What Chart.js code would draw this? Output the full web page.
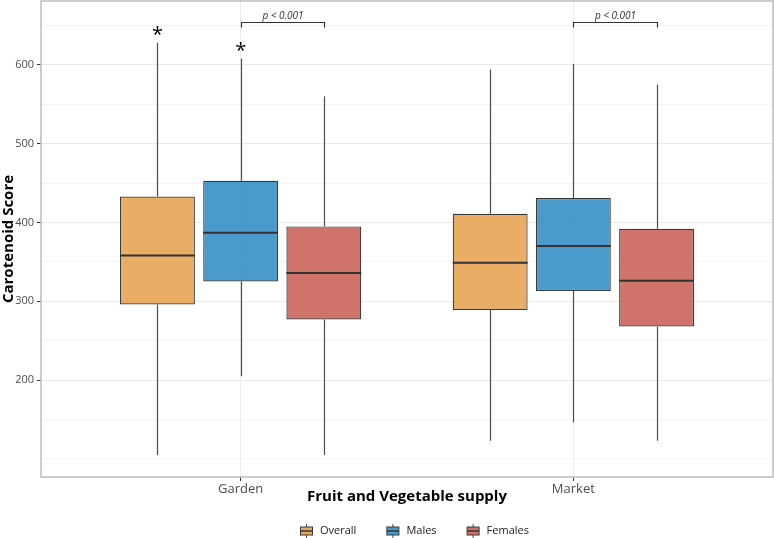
<!DOCTYPE html>
<html>
<head>
<meta charset="utf-8">
<script src="https://cdn.jsdelivr.net/npm/chart.js@4.4.1/dist/chart.umd.min.js"></script>
<style>
  html, body { margin: 0; padding: 0; background: #fff; }
  canvas { display: block; }
</style>
</head>
<body>
<canvas id="myChart" width="774" height="538"></canvas>
<script>
// categorias y series
const groups = ['Garden', 'Market'];
const groupPos = [1, 2];
const seriesNames = ['Overall', 'Males', 'Females'];
const dodge = [-0.25, 0, 0.25];

// valores de las cajas (min, q1, mediana, q3, max) por serie
const overallLow = [105, 123];
const overallQ1 = [296, 289];
const overallMed = [358, 349];
const overallQ3 = [433, 411];
const overallHigh = [628, 594];

const malesLow = [205, 146];
const malesQ1 = [325, 313];
const malesMed = [387, 370];
const malesQ3 = [453, 431];
const malesHigh = [608, 601];

const femalesLow = [105, 123];
const femalesQ1 = [277, 268];
const femalesMed = [336, 326];
const femalesQ3 = [395, 392];
const femalesHigh = [560, 575];

// ticks del eje y
const yTickLabels = [200, 300, 400, 500, 600];
const yGridValues = [100, 150, 200, 250, 300, 350, 400, 450, 500, 550, 600, 650];

// anotaciones: asteriscos y p-valor
const starX = [0.75, 1];
const starY = [638, 617];
const sigGroups = [1, 2];
const sigText = 'p < 0.001';
const sigY = 654;

const colors = ['rgba(230,159,75,0.85)', 'rgba(42,138,195,0.85)', 'rgba(200,90,80,0.85)'];
const legendColors = ['#E8A963', '#4A9ACC', '#D0736A'];

const lows = [overallLow, malesLow, femalesLow];
const q1s = [overallQ1, malesQ1, femalesQ1];
const meds = [overallMed, malesMed, femalesMed];
const q3s = [overallQ3, malesQ3, femalesQ3];
const highs = [overallHigh, malesHigh, femalesHigh];

const FONT = "'Open Sans', 'Noto Sans', sans-serif";

const datasets = seriesNames.map((name, s) => ({
    label: name,
    data: groupPos.map((p, i) => ({ x: p + dodge[s], y: [q1s[s][i], q3s[s][i]] })),
    backgroundColor: colors[s],
    borderColor: '#383838',
    borderWidth: 1.2,
    borderSkipped: false,
    grouped: false,
    categoryPercentage: 1,
    barPercentage: 0.9
}));

//bigotes detras de las cajas y mediana encima
const boxPlugin = {
    id: 'boxPlugin',
    beforeDatasetsDraw(chart) {
        const ctx = chart.ctx;
        const y = chart.scales.y;
        ctx.save();
        ctx.strokeStyle = '#4d4d4d';
        ctx.lineWidth = 1.2;
        chart.data.datasets.forEach((ds, s) => {
            const meta = chart.getDatasetMeta(s);
            meta.data.forEach((bar, i) => {
                const x = Math.round(bar.x) + 0.5;
                ctx.beginPath();
                ctx.moveTo(x, y.getPixelForValue(highs[s][i]));
                ctx.lineTo(x, y.getPixelForValue(q3s[s][i]));
                ctx.moveTo(x, y.getPixelForValue(q1s[s][i]));
                ctx.lineTo(x, y.getPixelForValue(lows[s][i]));
                ctx.stroke();
            });
        });
        ctx.restore();
    },
    afterDatasetsDraw(chart) {
        const ctx = chart.ctx;
        const x = chart.scales.x;
        const y = chart.scales.y;
        const area = chart.chartArea;
        ctx.save();
        ctx.strokeStyle = '#333333';
        ctx.lineWidth = 2;
        chart.data.datasets.forEach((ds, s) => {
            const meta = chart.getDatasetMeta(s);
            meta.data.forEach((bar, i) => {
                const py = y.getPixelForValue(meds[s][i]);
                ctx.beginPath();
                ctx.moveTo(bar.x - bar.width / 2, py);
                ctx.lineTo(bar.x + bar.width / 2, py);
                ctx.stroke();
            });
        });

        // asteriscos
        ctx.fillStyle = '#000';
        ctx.font = '20px ' + FONT;
        ctx.textAlign = 'center';
        ctx.textBaseline = 'middle';
        starX.forEach((sx, i) => {
            ctx.fillText('*', x.getPixelForValue(sx), y.getPixelForValue(starY[i]));
        });

        // corchetes con p-valor
        ctx.strokeStyle = '#333333';
        ctx.lineWidth = 1.2;
        ctx.font = 'italic 10px ' + FONT;
        ctx.fillStyle = '#333333';
        ctx.textBaseline = 'alphabetic';
        sigGroups.forEach(g => {
            const x1 = Math.round(x.getPixelForValue(g + dodge[1])) + 0.5;
            const x2 = Math.round(x.getPixelForValue(g + dodge[2])) + 0.5;
            const by = Math.round(y.getPixelForValue(sigY)) + 0.5;
            ctx.beginPath();
            ctx.moveTo(x1, by + 5);
            ctx.lineTo(x1, by);
            ctx.lineTo(x2, by);
            ctx.lineTo(x2, by + 5);
            ctx.stroke();
            ctx.fillText(sigText, (x1 + x2) / 2, by - 4);
        });

        // borde del panel
        ctx.strokeStyle = '#bdbdbd';
        ctx.lineWidth = 1.5;
        ctx.strokeRect(area.left, area.top, area.right - area.left, area.bottom - area.top);
        ctx.restore();
    },
    //leyenda propia abajo
    afterDraw(chart) {
        const ctx = chart.ctx;
        ctx.save();
        ctx.font = '11px ' + FONT;
        ctx.textBaseline = 'middle';
        ctx.textAlign = 'left';
        const cy = 531;
        let lx = 300;
        seriesNames.forEach((name, s) => {
            // mini boxplot
            const kx = lx + 6.5;
            ctx.strokeStyle = '#4d4d4d';
            ctx.lineWidth = 1;
            ctx.beginPath();
            ctx.moveTo(kx, cy - 7); ctx.lineTo(kx, cy - 4);
            ctx.moveTo(kx, cy + 4); ctx.lineTo(kx, cy + 7);
            ctx.stroke();
            ctx.fillStyle = legendColors[s];
            ctx.fillRect(lx + 0.5, cy - 4, 12, 8);
            ctx.strokeStyle = '#383838';
            ctx.strokeRect(lx + 0.5, cy - 4, 12, 8);
            ctx.beginPath();
            ctx.lineWidth = 1.5;
            ctx.moveTo(lx + 0.5, cy); ctx.lineTo(lx + 12.5, cy);
            ctx.stroke();
            ctx.fillStyle = '#1a1a1a';
            ctx.fillText(name, lx + 20, cy);
            lx += 20 + ctx.measureText(name).width + 30;
        });
        ctx.restore();
    }
};

const cv = document.querySelector('#myChart').getContext('2d');
const myChart = new Chart(cv, {
    type: 'bar',
    data: { datasets: datasets },
    plugins: [boxPlugin],
    options: {
        responsive: false,
        animation: false,
        layout: { padding: { top: 1, right: 1, left: 0, bottom: 38.5 } },
        plugins: {
            tooltip: { enabled: false },
            legend: { display: false }
        },
        scales: {
            x: {
                type: 'linear',
                min: 0.4,
                max: 2.6,
                offset: false,
                afterBuildTicks: (scale) => { scale.ticks = groupPos.map(v => ({ value: v })); },
                afterFit: (scale) => { scale.height = 22.5; },
                ticks: {
                    callback: (v) => groups[groupPos.indexOf(v)] || '',
                    color: '#4d4d4d',
                    padding: 0,
                    maxRotation: 0,
                    font: { family: FONT, size: 13 }
                },
                grid: { offset: false, color: '#ebebeb', tickColor: '#333333', tickLength: 4 },
                border: { display: false },
                title: {
                    display: true,
                    text: 'Fruit and Vegetable supply',
                    color: '#000',
                    padding: { top: 0, bottom: -6 },
                    font: { family: FONT, size: 15, weight: 'bold' }
                }
            },
            y: {
                min: 77,
                max: 681,
                beginAtZero: false,
                afterBuildTicks: (scale) => { scale.ticks = yGridValues.map(v => ({ value: v })); },
                afterFit: (scale) => {
                    scale.width = 41;
                    scale.paddingTop = 0;
                    scale.paddingBottom = 0;
                },
                ticks: {
                    callback: (v) => yTickLabels.includes(v) ? String(v) : '',
                    color: '#4d4d4d',
                    padding: 3,
                    font: { family: FONT, size: 11 }
                },
                grid: {
                    color: (c) => yTickLabels.includes(c.tick.value) ? '#ebebeb' : '#f4f4f4',
                    tickColor: (c) => yTickLabels.includes(c.tick.value) ? '#333333' : 'rgba(0,0,0,0)',
                    tickLength: 4
                },
                border: { display: false },
                title: {
                    display: true,
                    text: 'Carotenoid Score',
                    color: '#000',
                    padding: 0,
                    font: { family: FONT, size: 15, weight: 'bold' }
                }
            }
        }
    }
});
</script>
</body>
</html>
